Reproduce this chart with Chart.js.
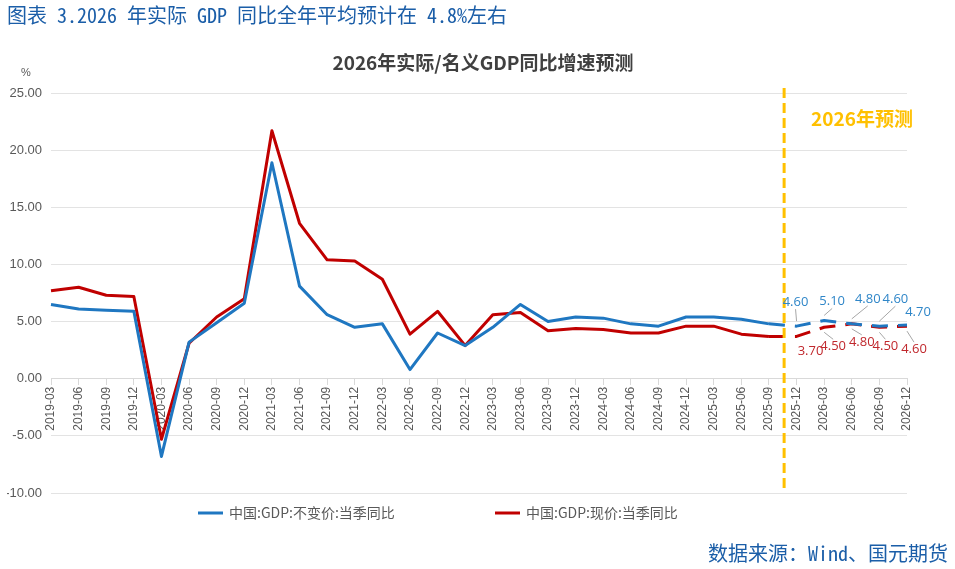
<!DOCTYPE html>
<html>
<head>
<meta charset="utf-8">
<script src="https://cdn.jsdelivr.net/npm/chart.js@4.4.0/dist/chart.umd.min.js"></script>
<style>
  html, body { margin: 0; padding: 0; background: #fff; }
  #wrap { position: relative; width: 955px; height: 569px; }
  #chart { position: absolute; left: 0; top: 0; }
  .note {
    position: absolute;
    font-family: "Noto Sans Mono CJK SC", "Noto Sans CJK SC", monospace;
    font-size: 20px;
    line-height: 20px;
    color: #1b5ea8;
    white-space: nowrap;
  }
  #header { left: 7px; top: 5px; }
  #source { right: 7px; top: 543px; }
</style>
</head>
<body>
<div id="wrap">
  <canvas id="chart" width="955" height="569"></canvas>
  <div class="note" id="header">图表 3.2026 年实际 GDP 同比全年平均预计在 4.8%左右</div>
  <div class="note" id="source">数据来源：Wind、国元期货</div>
</div>
<script>
// Quarter labels
const quarters = [
    '2019-03', '2019-06', '2019-09', '2019-12',
    '2020-03', '2020-06', '2020-09', '2020-12',
    '2021-03', '2021-06', '2021-09', '2021-12',
    '2022-03', '2022-06', '2022-09', '2022-12',
    '2023-03', '2023-06', '2023-09', '2023-12',
    '2024-03', '2024-06', '2024-09', '2024-12',
    '2025-03', '2025-06', '2025-09', '2025-12',
    '2026-03', '2026-06', '2026-09', '2026-12'
];

// 中国:GDP:不变价:当季同比 (%)
const realGdp = [
    6.5, 6.1, 6.0, 5.9,
    -6.8, 3.2, 4.9, 6.6,
    18.9, 8.1, 5.6, 4.5,
    4.8, 0.8, 4.0, 2.9,
    4.5, 6.5, 5.0, 5.4,
    5.3, 4.8, 4.6, 5.4,
    5.4, 5.2, 4.8, 4.6,
    5.1, 4.8, 4.6, 4.7
];

// 中国:GDP:现价:当季同比 (%)
const nominalGdp = [
    7.7, 8.0, 7.3, 7.2,
    -5.3, 3.1, 5.4, 7.0,
    21.7, 13.6, 10.4, 10.3,
    8.7, 3.9, 5.9, 2.9,
    5.6, 5.8, 4.2, 4.4,
    4.3, 4.0, 4.0, 4.6,
    4.6, 3.9, 3.7, 3.7,
    4.5, 4.8, 4.5, 4.6
];

const seriesNames = ['中国:GDP:不变价:当季同比', '中国:GDP:现价:当季同比'];
const lastActual = 26;          // 2025-09, dashed line after this
const forecastIdx = [27, 28, 29, 30, 31];
const yTicks = { min: -10, max: 25, step: 5 };

const BLUE = '#1f77c1';
const RED = '#c00000';
const GOLD = '#ffc000';
const GREY = '#595959';

// label offsets (dx, dy) for the forecast value labels
const blueLabelOffsets = [[-1, -24], [8, -19], [16, -25], [16, -27], [11, -13]];
const redLabelOffsets = [[14, 15], [9, 19], [10, 18], [6, 19], [7, 23]];

const extras = {
    id: 'extras',
    afterDatasetsDraw(chart) {
        const { ctx, chartArea, scales: { x, y } } = chart;
        ctx.save();

        // forecast divider
        const divX = x.getPixelForValue(lastActual + 0.55);
        ctx.strokeStyle = GOLD;
        ctx.lineWidth = 3;
        ctx.setLineDash([10, 5]);
        ctx.beginPath();
        ctx.moveTo(divX, chartArea.top - 5);
        ctx.lineTo(divX, chartArea.bottom);
        ctx.stroke();
        ctx.setLineDash([]);

        ctx.fillStyle = GOLD;
        ctx.font = 'bold 19px "Noto Sans CJK SC"';
        ctx.textAlign = 'center';
        ctx.textBaseline = 'middle';
        ctx.fillText('2026年预测', 862, 119);

        // value labels with leader lines
        const drawLabels = (values, offsets, color, sign) => {
            forecastIdx.forEach((idx, k) => {
                const px = x.getPixelForValue(idx);
                const py = y.getPixelForValue(values[idx]);
                const tx = px + offsets[k][0];
                const ty = py + offsets[k][1];
                const sx = tx;
                const sy = ty - sign * 7;
                const ex = px;
                const ey = py + sign * 5;
                if (Math.abs(sy - ey) > 5) {
                    ctx.strokeStyle = '#a6a6a6';
                    ctx.lineWidth = 1;
                    ctx.beginPath();
                    ctx.moveTo(sx, sy);
                    ctx.lineTo(ex, ey);
                    ctx.stroke();
                }
                ctx.fillStyle = color;
                ctx.font = '13px "Open Sans"';
                ctx.textAlign = 'center';
                ctx.textBaseline = 'middle';
                ctx.fillText(values[idx].toFixed(2), tx, ty);
            });
        };
        drawLabels(realGdp, blueLabelOffsets, '#2f86c8', -1);
        drawLabels(nominalGdp, redLabelOffsets, '#c0282d', 1);

        ctx.restore();
    },
    afterDraw(chart) {
        const { ctx } = chart;
        ctx.save();

        // chart title
        ctx.fillStyle = '#404040';
        ctx.font = 'bold 19px "Noto Sans CJK SC"';
        ctx.textAlign = 'center';
        ctx.textBaseline = 'middle';
        ctx.fillText('2026年实际/名义GDP同比增速预测', 483, 63);

        // unit
        ctx.fillStyle = GREY;
        ctx.font = '11px "Liberation Sans"';
        ctx.fillText('%', 26, 73);

        // legend
        const legendX = [198, 495];
        chart.data.datasets.forEach((ds, i) => {
            const lx = legendX[i];
            const ly = 513;
            ctx.strokeStyle = ds.borderColor;
            ctx.lineWidth = 3;
            ctx.beginPath();
            ctx.moveTo(lx, ly);
            ctx.lineTo(lx + 25, ly);
            ctx.stroke();
            ctx.fillStyle = GREY;
            ctx.font = '14px "Noto Sans CJK SC"';
            ctx.textAlign = 'left';
            ctx.fillText(ds.label, lx + 31, ly);
        });

        ctx.restore();
    }
};

const dashAfter = ctx => ctx.p0DataIndex >= lastActual ? [16, 10] : undefined;

const chart = new Chart(document.getElementById('chart').getContext('2d'), {
    type: 'line',
    data: {
        labels: quarters,
        datasets: [{
            label: seriesNames[0],
            data: realGdp,
            borderColor: BLUE,
            borderWidth: 3,
            pointRadius: 0,
            tension: 0,
            borderJoinStyle: 'round',
            segment: { borderDash: dashAfter }
        }, {
            label: seriesNames[1],
            data: nominalGdp,
            borderColor: RED,
            borderWidth: 3,
            pointRadius: 0,
            tension: 0,
            borderJoinStyle: 'round',
            segment: { borderDash: dashAfter }
        }]
    },
    options: {
        responsive: false,
        animation: false,
        layout: {
            padding: { top: 93, bottom: 76, left: 7, right: 48 }
        },
        plugins: {
            legend: { display: false },
            title: { display: false },
            tooltip: { enabled: false }
        },
        scales: {
            x: {
                position: { y: 0 },
                offset: false,
                grid: {
                    drawOnChartArea: false,
                    drawTicks: true,
                    tickLength: 6,
                    color: '#d9d9d9'
                },
                border: { display: true, color: '#d9d9d9' },
                ticks: {
                    autoSkip: false,
                    minRotation: 90,
                    maxRotation: 90,
                    padding: 2,
                    color: GREY,
                    font: { family: 'Liberation Sans', size: 12 }
                }
            },
            y: {
                min: yTicks.min,
                max: yTicks.max,
                afterFit(scale) { scale.width = 44; },
                grid: { color: '#e3e3e3', drawTicks: false },
                border: { display: false },
                ticks: {
                    stepSize: yTicks.step,
                    padding: 9,
                    color: GREY,
                    font: { family: 'Liberation Sans', size: 13 },
                    callback: v => v.toFixed(2)
                }
            }
        }
    },
    plugins: [extras]
});
</script>
</body>
</html>
